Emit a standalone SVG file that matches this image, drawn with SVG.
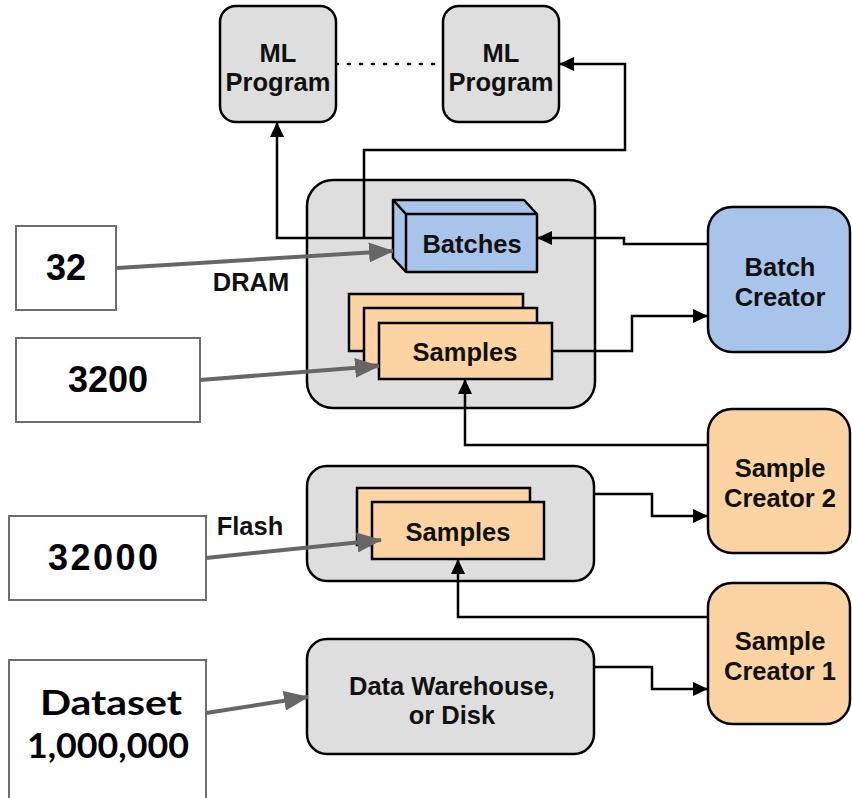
<svg xmlns="http://www.w3.org/2000/svg" width="852" height="798" viewBox="0 0 852 798">
  <style>
    .box { stroke: #000; stroke-width: 2.5; }
    .gray { fill: #dedede; }
    .blue { fill: #a9c4ea; }
    .peach { fill: #fcd4a4; }
    .count { fill: #fff; stroke: #6e6e6e; stroke-width: 2; }
    .lbl { font-family: "Liberation Sans", Arial, sans-serif; font-weight: bold; font-size: 25.5px; fill: #111; text-anchor: middle; }
    .num { font-family: "Liberation Sans", Arial, sans-serif; font-weight: bold; font-size: 36px; fill: #000; text-anchor: middle; }
    .big { font-family: "Lato", "Liberation Sans", sans-serif; font-weight: bold; font-size: 35px; fill: #000; text-anchor: middle; }
    .link { fill: none; stroke: #000; stroke-width: 2.5; }
    .size { fill: none; stroke: #666; stroke-width: 4; }
  </style>
  <defs>
    <marker id="head" markerUnits="userSpaceOnUse" markerWidth="16" markerHeight="14" refX="14" refY="7" orient="auto">
      <path d="M0,0 L15,7 L0,14 Z" fill="#000"/>
    </marker>
    <marker id="grayHead" markerUnits="userSpaceOnUse" markerWidth="26" markerHeight="20" refX="24" refY="10" orient="auto">
      <path d="M0,0 L25,10 L0,20 Z" fill="#666"/>
    </marker>
  </defs>

  <rect width="852" height="798" fill="#fff"/>

  <!-- storage containers -->
  <g id="dram">
    <rect class="box gray" x="307" y="180" width="288" height="228" rx="26"/>
  </g>
  <g id="flash">
    <rect class="box gray" x="307" y="466" width="287" height="115" rx="20"/>
  </g>

  <!-- connectors -->
  <g id="connectors">
    <line x1="336" y1="64" x2="443" y2="64" stroke="#000" stroke-width="2.5" stroke-dasharray="2 10" stroke-linecap="round"/>
    <path class="link" d="M393,238 H277 V123" marker-end="url(#head)"/>
    <path class="link" d="M364,238 V150 H625 V64 H560" marker-end="url(#head)"/>
    <path class="link" d="M708,244 H624 V238 H538" marker-end="url(#head)"/>
    <path class="link" d="M552,351 H632 V316 H707" marker-end="url(#head)"/>
    <path class="link" d="M708,445 H465 V380" marker-end="url(#head)"/>
    <path class="link" d="M594,494 H652 V516 H707" marker-end="url(#head)"/>
    <path class="link" d="M708,617 H458 V560" marker-end="url(#head)"/>
    <path class="link" d="M594,667 H652 V689 H707" marker-end="url(#head)"/>
  </g>

  <g id="ml-program-1">
    <rect class="box gray" x="220" y="6" width="116" height="116" rx="16"/>
    <text class="lbl" x="278" y="62">ML</text>
    <text class="lbl" x="278" y="91">Program</text>
  </g>
  <g id="ml-program-2">
    <rect class="box gray" x="443" y="6" width="116" height="116" rx="16"/>
    <text class="lbl" x="501" y="62">ML</text>
    <text class="lbl" x="501" y="91">Program</text>
  </g>

  <g id="batches">
    <path class="box blue" d="M393,200 H524 L537,214 V272 H406 L393,258 Z" stroke-linejoin="round"/>
    <path d="M393,200 L406,214 H537 M406,214 V272" fill="none" stroke="#000" stroke-width="2.5"/>
    <text class="lbl" x="472" y="253">Batches</text>
  </g>

  <g id="dram-samples">
    <rect class="box peach" x="349" y="294" width="174" height="57"/>
    <rect class="box peach" x="364" y="308" width="173" height="57"/>
    <rect class="box peach" x="379" y="323" width="173" height="56"/>
    <text class="lbl" x="465" y="361">Samples</text>
  </g>

  <g id="flash-samples">
    <rect class="box peach" x="357" y="488" width="173" height="57"/>
    <rect class="box peach" x="372" y="502" width="172" height="57"/>
    <text class="lbl" x="458" y="541">Samples</text>
  </g>

  <g id="data-warehouse">
    <rect class="box gray" x="307" y="639" width="287" height="115" rx="20"/>
    <text class="lbl" x="452" y="695">Data Warehouse,</text>
    <text class="lbl" x="452" y="724">or Disk</text>
  </g>

  <g id="batch-creator">
    <rect class="box blue" x="708" y="207" width="142" height="145" rx="24"/>
    <text class="lbl" x="780" y="276">Batch</text>
    <text class="lbl" x="780" y="306">Creator</text>
  </g>
  <g id="sample-creator-2">
    <rect class="box peach" x="708" y="409" width="142" height="144" rx="24"/>
    <text class="lbl" x="780" y="477">Sample</text>
    <text class="lbl" x="780" y="507">Creator 2</text>
  </g>
  <g id="sample-creator-1">
    <rect class="box peach" x="708" y="583" width="142" height="141" rx="24"/>
    <text class="lbl" x="780" y="650">Sample</text>
    <text class="lbl" x="780" y="680">Creator 1</text>
  </g>

  <text class="lbl" x="251" y="291">DRAM</text>
  <text class="lbl" x="250" y="535">Flash</text>

  <!-- item counts -->
  <g id="count-32">
    <rect class="count" x="16" y="226" width="100" height="84"/>
    <text class="num" x="66" y="280">32</text>
  </g>
  <g id="count-3200">
    <rect class="count" x="16" y="338" width="184" height="84"/>
    <text class="num" x="108" y="392">3200</text>
  </g>
  <g id="count-32000">
    <rect class="count" x="9" y="516" width="197" height="84"/>
    <text class="num" x="103" y="570" textLength="110">32000</text>
  </g>
  <g id="count-dataset">
    <rect class="count" x="9" y="660" width="197" height="145"/>
    <text class="big" x="111" y="715" textLength="142" lengthAdjust="spacingAndGlyphs">Dataset</text>
    <text class="big" x="108" y="758" textLength="162" lengthAdjust="spacingAndGlyphs">1,000,000</text>
  </g>

  <g id="count-links">
    <line class="size" x1="117" y1="268" x2="393" y2="251" marker-end="url(#grayHead)"/>
    <line class="size" x1="200" y1="380" x2="379" y2="366" marker-end="url(#grayHead)"/>
    <line class="size" x1="206" y1="558" x2="381" y2="540" marker-end="url(#grayHead)"/>
    <line class="size" x1="206" y1="713" x2="308" y2="697" marker-end="url(#grayHead)"/>
  </g>
</svg>
